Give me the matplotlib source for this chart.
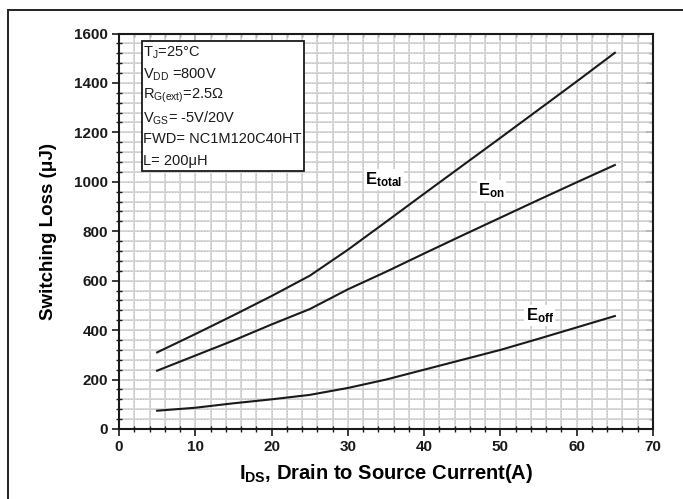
import matplotlib
matplotlib.use("Agg")
import matplotlib.pyplot as plt
from matplotlib.patches import Rectangle
from matplotlib.ticker import MultipleLocator

plt.rcParams["font.family"] = ["Liberation Sans", "DejaVu Sans"]
plt.rcParams["mathtext.fontset"] = "custom"
plt.rcParams["mathtext.rm"] = "Liberation Sans"
plt.rcParams["mathtext.it"] = "Liberation Sans:italic"
plt.rcParams["mathtext.bf"] = "Liberation Sans:bold"

# Drain current (A)
current = [5, 10, 15, 20, 25, 30, 35, 40, 45, 50, 55, 60, 65]
# Switching energies (uJ)
e_total = [310, 384, 460, 538, 620, 725, 838, 952, 1065, 1178, 1292, 1406, 1522]
e_on = [236, 297, 358, 423, 485, 565, 636, 710, 783, 855, 927, 998, 1068]
e_off = [74, 86, 104, 120, 138, 166, 200, 240, 280, 320, 365, 411, 457]

curve_labels = [
    (r"E$_\mathbf{total}$", 32.3, 1010),
    (r"E$_\mathbf{on}$", 47.1, 965),
    (r"E$_\mathbf{off}$", 53.3, 458),
]

conditions = [
    r"T$_\mathrm{J}$=25°C",
    r"V$_\mathrm{DD}$ =800V",
    r"R$_\mathrm{G(ext)}$=2.5Ω",
    r"V$_\mathrm{GS}$= -5V/20V",
    "FWD= NC1M120C40HT",
    "L= 200μH",
]

fig = plt.figure(figsize=(6.83, 4.99), dpi=100)
fig.patches.append(Rectangle((8 / 683, -0.1), 1.2, 1 - 10 / 499 + 0.1,
                             transform=fig.transFigure, fill=False,
                             edgecolor="#222222", linewidth=1.4))

ax = fig.add_axes([119 / 683, 1 - 429 / 499, 534 / 683, 395.5 / 499])
ax.set_xlim(0, 70)
ax.set_ylim(0, 1600)
ax.xaxis.set_major_locator(MultipleLocator(10))
ax.xaxis.set_minor_locator(MultipleLocator(2))
ax.yaxis.set_major_locator(MultipleLocator(200))
ax.yaxis.set_minor_locator(MultipleLocator(40))

# grid: pale solid lines with darker dotted overlay
ax.grid(True, which="both", color="#d4d4d4", linewidth=1.2, linestyle="-", zorder=0)
for xv in range(2, 70, 2):
    ax.axvline(xv, color="#5a5a5a", linewidth=0.7, linestyle=(0, (1.2, 1.8)), zorder=0.5)
for yv in range(40, 1600, 40):
    ax.axhline(yv, color="#5a5a5a", linewidth=0.7, linestyle=(0, (1.2, 1.8)), zorder=0.5)

for series in (e_total, e_on, e_off):
    ax.plot(current, series, color="#1a1a1a", linewidth=1.5, zorder=3)

for text, xv, yv in curve_labels:
    ax.text(xv, yv, text, fontsize=12, fontweight="bold", ha="left",
            va="center", zorder=4,
            bbox=dict(facecolor="white", edgecolor="none", pad=1))

for sp in ax.spines.values():
    sp.set_linewidth(1.5)
    sp.set_color("#1a1a1a")

ax.tick_params(axis="both", which="major", direction="out", length=5, width=1.2,
               labelsize=11, colors="#1a1a1a", pad=3)
ax.tick_params(axis="both", which="minor", direction="inout", length=4, width=1.0,
               colors="#1a1a1a")
for lab in ax.get_xticklabels() + ax.get_yticklabels():
    lab.set_fontweight("bold")

# top/right ticks point inward
sx = ax.secondary_xaxis("top")
sx.xaxis.set_major_locator(MultipleLocator(10))
sx.xaxis.set_minor_locator(MultipleLocator(2))
sx.tick_params(which="major", direction="in", length=5, width=1.2, labeltop=False)
sx.tick_params(which="minor", direction="in", length=3, width=1.0)
sy = ax.secondary_yaxis("right")
sy.yaxis.set_major_locator(MultipleLocator(200))
sy.yaxis.set_minor_locator(MultipleLocator(40))
sy.tick_params(which="major", direction="in", length=5, width=1.2, labelright=False)
sy.tick_params(which="minor", direction="in", length=3, width=1.0)
for s in (sx, sy):
    for sp in s.spines.values():
        sp.set_visible(False)

ax.set_xlabel(r"I$_\mathbf{DS}$, Drain to Source Current(A)", fontsize=14.5,
              fontweight="bold", labelpad=6)
ax.set_ylabel("Switching Loss (μJ)", fontsize=13.5, fontweight="bold", labelpad=12)

# test-condition box
box_left, box_top = 141.5, 40.5
box = Rectangle((box_left / 683, 1 - 171 / 499), (304 - box_left) / 683,
                (171 - box_top) / 499, transform=fig.transFigure,
                facecolor="white", edgecolor="#1a1a1a", linewidth=1.3, zorder=5)
fig.patches.append(box)
for i, line in enumerate(conditions):
    fig.text(143 / 683, 1 - (53 + i * 21.6) / 499, line, fontsize=10.5,
             ha="left", va="center", color="#1a1a1a", zorder=6)

fig.savefig("out.png", dpi=100)
